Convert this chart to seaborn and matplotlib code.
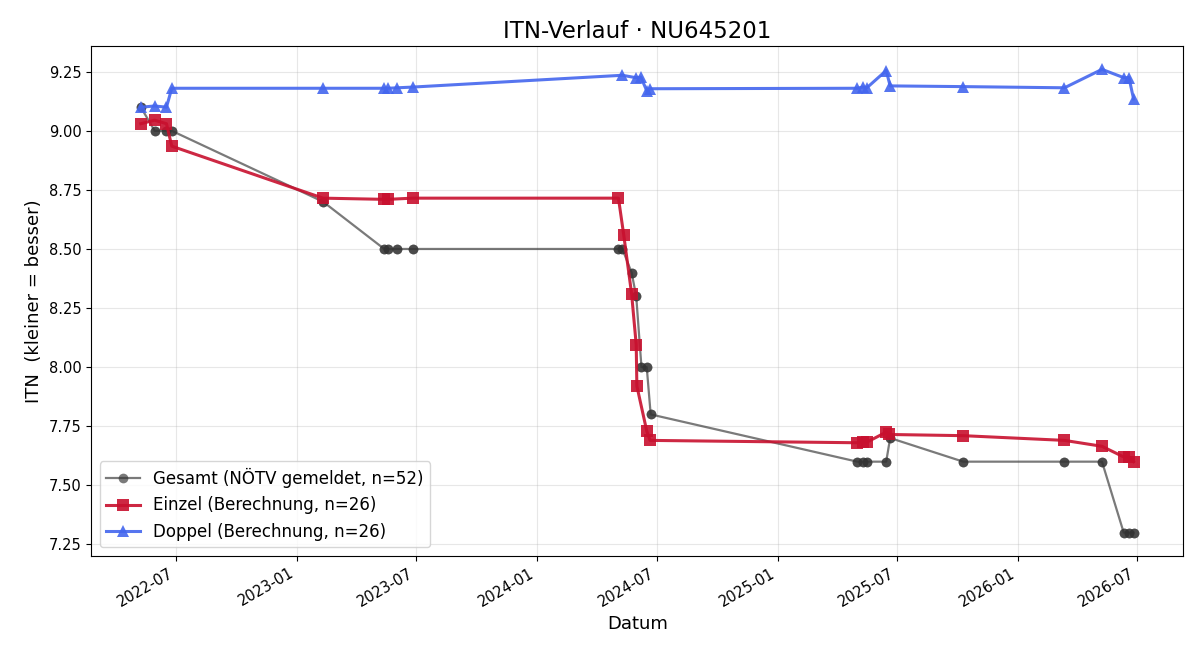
import pandas as pd
import matplotlib
matplotlib.use("Agg")
import matplotlib.pyplot as plt
import matplotlib.dates as mdates
import seaborn as sns
from matplotlib.ticker import FormatStrFormatter, MultipleLocator

# ITN values
# Gesamt: every date carries two matches (Einzel + Doppel), hence the doubled entries
gesamt_dates = ["2022-05-09", "2022-05-09", "2022-05-30", "2022-05-30", "2022-06-17",
                "2022-06-17", "2022-06-25", "2022-06-25", "2023-02-10", "2023-02-10",
                "2023-05-14", "2023-05-14", "2023-05-20", "2023-05-20", "2023-06-03",
                "2023-06-03", "2023-06-26", "2023-06-26", "2024-05-04", "2024-05-04",
                "2024-05-10", "2024-05-10", "2024-05-24", "2024-05-24", "2024-05-31",
                "2024-05-31", "2024-06-08", "2024-06-08", "2024-06-16", "2024-06-16",
                "2024-06-22", "2024-06-22", "2025-05-02", "2025-05-02", "2025-05-10",
                "2025-05-10", "2025-05-17", "2025-05-17", "2025-06-15", "2025-06-15",
                "2025-06-21", "2025-06-21", "2025-10-10", "2025-10-10", "2026-03-13",
                "2026-03-13", "2026-05-09", "2026-05-09", "2026-06-11", "2026-06-11",
                "2026-06-19", "2026-06-19", "2026-06-26", "2026-06-26"]
gesamt_itn = [9.10, 9.10, 9.00, 9.00, 9.00,
              9.00, 9.00, 9.00, 8.70, 8.70,
              8.50, 8.50, 8.50, 8.50, 8.50,
              8.50, 8.50, 8.50, 8.50, 8.50,
              8.50, 8.50, 8.40, 8.40, 8.30,
              8.30, 8.00, 8.00, 8.00, 8.00,
              7.80, 7.80, 7.60, 7.60, 7.60,
              7.60, 7.60, 7.60, 7.60, 7.60,
              7.70, 7.70, 7.60, 7.60, 7.60,
              7.60, 7.60, 7.60, 7.30, 7.30,
              7.30, 7.30, 7.30, 7.30]

einzel_dates = ["2022-05-09", "2022-05-30", "2022-06-17", "2022-06-25", "2023-02-10",
                "2023-05-14", "2023-05-20", "2023-06-26", "2024-05-04", "2024-05-12",
                "2024-05-24", "2024-05-31", "2024-06-01", "2024-06-16", "2024-06-21",
                "2025-05-02", "2025-05-10", "2025-05-17", "2025-06-15", "2025-06-20",
                "2025-10-10", "2026-03-13", "2026-05-09", "2026-06-11", "2026-06-19",
                "2026-06-26"]
einzel_itn = [9.03, 9.045, 9.03, 8.935, 8.715,
              8.71, 8.71, 8.715, 8.715, 8.56,
              8.31, 8.095, 7.92, 7.73, 7.69,
              7.68, 7.685, 7.683, 7.725, 7.715,
              7.71, 7.69, 7.665, 7.62, 7.62,
              7.60]

doppel_dates = ["2022-05-09", "2022-05-30", "2022-06-17", "2022-06-25", "2023-02-10",
                "2023-05-14", "2023-05-20", "2023-06-03", "2023-06-26", "2024-05-10",
                "2024-05-30", "2024-06-07", "2024-06-16", "2024-06-21", "2025-05-02",
                "2025-05-10", "2025-05-17", "2025-06-15", "2025-06-21", "2025-10-10",
                "2026-03-13", "2026-05-09", "2026-06-11", "2026-06-19", "2026-06-26"]
doppel_itn = [9.10, 9.105, 9.10, 9.18, 9.18,
              9.18, 9.18, 9.182, 9.185, 9.235,
              9.225, 9.227, 9.17, 9.178, 9.18,
              9.185, 9.183, 9.255, 9.19, 9.187,
              9.182, 9.26, 9.225, 9.225, 9.135]

df_g = pd.DataFrame({"Datum": pd.to_datetime(gesamt_dates), "ITN": gesamt_itn})
df_e = pd.DataFrame({"Datum": pd.to_datetime(einzel_dates), "ITN": einzel_itn})
df_d = pd.DataFrame({"Datum": pd.to_datetime(doppel_dates), "ITN": doppel_itn})

fig, ax = plt.subplots(figsize=(12, 6.6), dpi=100)

sns.lineplot(data=df_g, x="Datum", y="ITN", ax=ax, estimator=None, sort=False,
             color="#333333", alpha=0.65, linewidth=1.6, marker="o", markersize=7,
             markeredgewidth=0, label="Gesamt (NÖTV gemeldet, n=52)")
sns.lineplot(data=df_e, x="Datum", y="ITN", ax=ax, estimator=None, sort=False,
             color="#c8102e", alpha=0.9, linewidth=2.2, marker="s", markersize=8,
             markeredgewidth=0, label="Einzel (Berechnung, n=26)")
sns.lineplot(data=df_d, x="Datum", y="ITN", ax=ax, estimator=None, sort=False,
             color="#4466ee", alpha=0.9, linewidth=2.2, marker="^", markersize=8,
             markeredgewidth=0, label="Doppel (Berechnung, n=26)")

ax.set_title("ITN-Verlauf · NU645201", fontsize=16.5)
ax.set_xlabel("Datum", fontsize=13)
ax.set_ylabel("ITN  (kleiner = besser)", fontsize=13)
ax.yaxis.set_major_locator(MultipleLocator(0.25))
ax.yaxis.set_major_formatter(FormatStrFormatter("%.2f"))
ax.xaxis.set_major_locator(mdates.MonthLocator(bymonth=[1, 7]))
ax.xaxis.set_major_formatter(mdates.DateFormatter("%Y-%m"))
ax.tick_params(labelsize=10.5)
ax.grid(True, alpha=0.3)
ax.legend(loc="lower left", fontsize=12)
fig.autofmt_xdate()

fig.subplots_adjust(left=0.076, right=0.986, top=0.930, bottom=0.158)
plt.savefig("out.png")
